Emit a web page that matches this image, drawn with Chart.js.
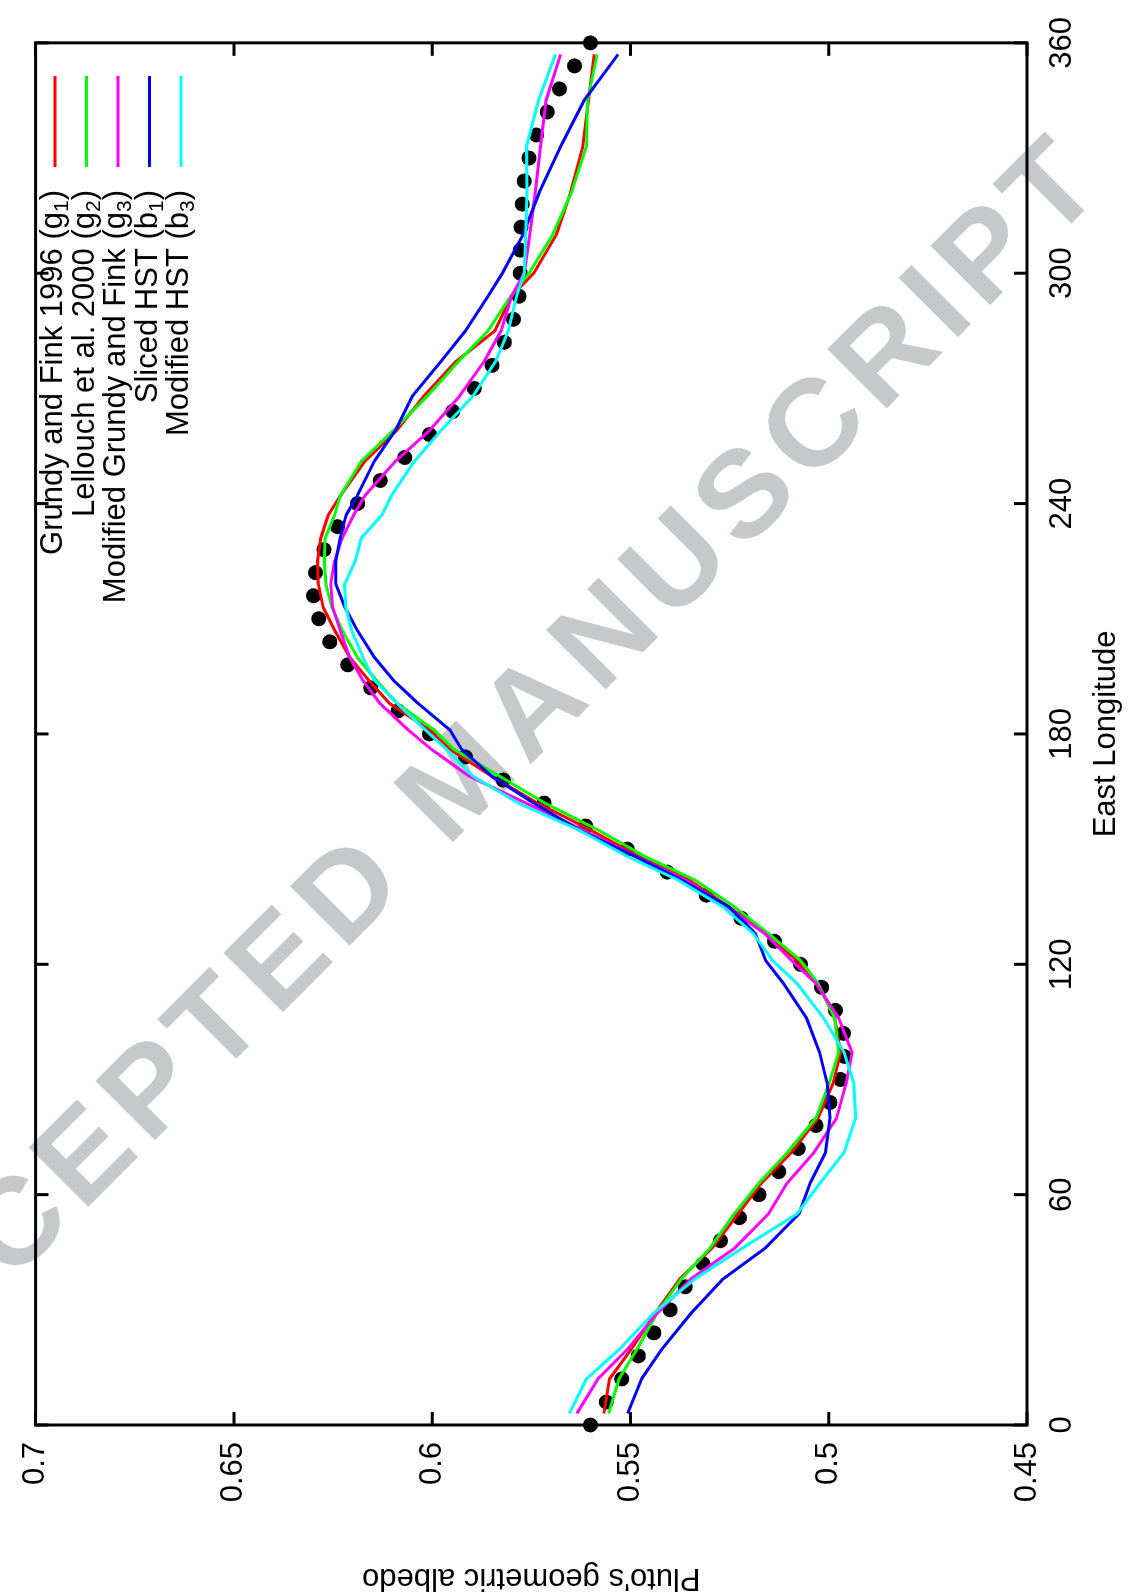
<!DOCTYPE html>
<html>
<head>
<meta charset="utf-8">
<script src="https://cdn.jsdelivr.net/npm/chart.js@4.4.1/dist/chart.umd.min.js"></script>
<style>
    html, body { margin: 0; padding: 0; background: #fff; overflow: hidden; }
    body { width: 1137px; height: 1593px; position: relative; }
    /* the plot is drawn landscape and turned a quarter turn, like the original figure */
    #wrap {
        position: absolute; left: 0; top: 0;
        width: 1593px; height: 1137px;
        transform-origin: 0 0;
        transform: translateY(1593px) rotate(-90deg);
    }
</style>
</head>
<body>
<div id="wrap"><canvas id="albedoChart" width="1593" height="1137"></canvas></div>
<script>
// Observed albedo (black dots), every 6 degrees of east longitude
const dotLon = [0, 6, 12, 18, 24, 30, 36, 42, 48, 54, 60, 66, 72, 78, 84, 90, 96, 102, 108, 114,
    120, 126, 132, 138, 144, 150, 156, 162, 168, 174, 180, 186, 192, 198, 204, 210, 216, 222, 228, 234,
    240, 246, 252, 258, 264, 270, 276, 282, 288, 294, 300, 306, 312, 318, 324, 330, 336, 342, 348, 354, 360];
const dotAlbedo = [0.5601, 0.5561, 0.5522, 0.5480, 0.5441, 0.5400, 0.5362, 0.5317, 0.5273, 0.5225,
    0.5176, 0.5126, 0.5077, 0.5032, 0.4997, 0.4970, 0.4961, 0.4963, 0.4983, 0.5018,
    0.5071, 0.5137, 0.5221, 0.5309, 0.5407, 0.5508, 0.5613, 0.5718, 0.5821, 0.5916,
    0.6007, 0.6086, 0.6155, 0.6213, 0.6258, 0.6286, 0.6299, 0.6294, 0.6273, 0.6239,
    0.6188, 0.6131, 0.6069, 0.6007, 0.5948, 0.5894, 0.5849, 0.5818, 0.5795, 0.5781,
    0.5778, 0.5778, 0.5776, 0.5773, 0.5768, 0.5756, 0.5737, 0.5710, 0.5679, 0.5641, 0.5601];

// Model curves, read at the same longitudes
const lineLon = [3, 12, 20, 29, 38, 46, 55, 63, 71, 80, 89, 97, 106, 115, 121, 128, 135, 142, 148, 155,
    162, 169, 176, 181, 188, 194, 200, 207, 213, 219, 225, 231, 237, 242, 251, 259, 268, 277, 285, 294,
    300, 310, 321, 333, 345, 357];
const grundyFink = [0.5567, 0.5553, 0.5496, 0.5438, 0.5376, 0.5295, 0.5228, 0.5170, 0.5094, 0.5027,
    0.4989, 0.4970, 0.4985, 0.5027, 0.5080, 0.5161, 0.5252, 0.5353, 0.5477, 0.5601,
    0.5735, 0.5850, 0.5955, 0.6006, 0.6108, 0.6160, 0.6208, 0.6246, 0.6275, 0.6287,
    0.6289, 0.6281, 0.6262, 0.6232, 0.6170, 0.6090, 0.6021, 0.5940, 0.5842, 0.5800,
    0.5744, 0.5687, 0.5651, 0.5620, 0.5606, 0.5591];
const lellouch = [0.5555, 0.5529, 0.5482, 0.5434, 0.5372, 0.5300, 0.5238, 0.5176, 0.5104, 0.5032,
    0.4999, 0.4975, 0.4985, 0.5027, 0.5071, 0.5152, 0.5238, 0.5338, 0.5462, 0.5582,
    0.5716, 0.5830, 0.5945, 0.5995, 0.6089, 0.6141, 0.6189, 0.6227, 0.6253, 0.6268,
    0.6272, 0.6270, 0.6246, 0.6232, 0.6179, 0.6098, 0.6012, 0.5934, 0.5859, 0.5802,
    0.5756, 0.5696, 0.5649, 0.5611, 0.5608, 0.5584];
const modGrundy = [0.5635, 0.5582, 0.5505, 0.5434, 0.5348, 0.5238, 0.5152, 0.5105, 0.5037, 0.4980,
    0.4956, 0.4941, 0.4975, 0.5032, 0.5094, 0.5161, 0.5257, 0.5362, 0.5486, 0.5620,
    0.5764, 0.5907, 0.6002, 0.6060, 0.6132, 0.6175, 0.6208, 0.6232, 0.6251, 0.6256,
    0.6246, 0.6227, 0.6198, 0.6170, 0.6093, 0.6007, 0.5931, 0.5869, 0.5826, 0.5800,
    0.5768, 0.5754, 0.5740, 0.5727, 0.5713, 0.5676];
const slicedHst = [0.5507, 0.5472, 0.5419, 0.5348, 0.5267, 0.5161, 0.5075, 0.5047, 0.5008, 0.4997,
    0.5004, 0.5023, 0.5056, 0.5114, 0.5159, 0.5185, 0.5252, 0.5372, 0.5486, 0.5630,
    0.5744, 0.5850, 0.5926, 0.5955, 0.6036, 0.6098, 0.6146, 0.6189, 0.6220, 0.6243,
    0.6243, 0.6232, 0.6217, 0.6189, 0.6146, 0.6093, 0.6050, 0.5978, 0.5916, 0.5859,
    0.5823, 0.5771, 0.5730, 0.5676, 0.5617, 0.5531];
const modHst = [0.5654, 0.5611, 0.5525, 0.5443, 0.5338, 0.5219, 0.5080, 0.5022, 0.4961, 0.4932,
    0.4937, 0.4961, 0.5013, 0.5080, 0.5142, 0.5190, 0.5267, 0.5381, 0.5506, 0.5630,
    0.5783, 0.5897, 0.5964, 0.6017, 0.6089, 0.6146, 0.6175, 0.6203, 0.6218, 0.6221,
    0.6194, 0.6179, 0.6127, 0.6103, 0.6045, 0.5978, 0.5897, 0.5840, 0.5808, 0.5787,
    0.5768, 0.5764, 0.5761, 0.5762, 0.5732, 0.5689];

const seriesNames = ["Grundy and Fink 1996 (g", "Lellouch et al. 2000 (g", "Modified Grundy and Fink (g",
    "Sliced HST (b", "Modified HST (b"];
const seriesSubs = ["1", "2", "3", "1", "3"];
const seriesColors = ["#ff0000", "#00ff00", "#ff00ff", "#0000ff", "#00ffff"];
const seriesValues = [grundyFink, lellouch, modGrundy, slicedHst, modHst];

const FONT = "Liberation Sans, Arial, Helvetica, sans-serif";
const WATERMARK = "ACCEPTED MANUSCRIPT";

function toPoints(xs, ys) {
    return xs.map((x, i) => ({ x: x, y: ys[i] }));
}

// grey diagonal watermark, under the curves
const watermarkPlugin = {
    id: "watermark",
    beforeDatasetsDraw(chart) {
        const ctx = chart.ctx;
        ctx.save();
        ctx.font = "bold 122px " + FONT;
        ctx.fillStyle = "rgb(199,200,202)";
        ctx.textBaseline = "alphabetic";
        ctx.translate(745, 447);
        ctx.rotate(Math.PI / 4);
        ctx.scale(1.03, 1);
        const gap = 10;
        const head = "ACCEPTED ";
        let pos = 0;
        for (const ch of head) pos -= ctx.measureText(ch).width + gap;
        for (const ch of WATERMARK) {
            ctx.fillText(ch, pos, 0);
            pos += ctx.measureText(ch).width + gap;
        }
        ctx.restore();
    },
};

// gnuplot style frame with inward mirrored ticks, titles and key
const framePlugin = {
    id: "frame",
    beforeDatasetsDraw(chart) {
        const ctx = chart.ctx;
        const a = chart.chartArea;
        const xs = chart.scales.x;
        const ys = chart.scales.y;
        ctx.save();
        ctx.strokeStyle = "#000";
        ctx.lineWidth = 3;
        ctx.strokeRect(a.left, a.top, a.right - a.left, a.bottom - a.top);
        ctx.beginPath();
        const tl = 13;
        xs.ticks.forEach((t) => {
            const px = xs.getPixelForValue(t.value);
            ctx.moveTo(px, a.bottom); ctx.lineTo(px, a.bottom - tl);
            ctx.moveTo(px, a.top); ctx.lineTo(px, a.top + tl);
        });
        ys.ticks.forEach((t) => {
            const py = ys.getPixelForValue(t.value);
            ctx.moveTo(a.left, py); ctx.lineTo(a.left + tl, py);
            ctx.moveTo(a.right, py); ctx.lineTo(a.right - tl, py);
        });
        ctx.stroke();

        ctx.fillStyle = "#000";
        ctx.font = "31px " + FONT;
        ctx.textAlign = "center";
        ctx.textBaseline = "alphabetic";
        ctx.fillText("East Longitude", (a.left + a.right) / 2, 1115);
        ctx.save();
        ctx.translate(24, (a.top + a.bottom) / 2);
        ctx.rotate(-Math.PI / 2);
        ctx.fillText("Pluto's geometric albedo", 0, 0);
        ctx.restore();
        ctx.restore();
    },
    afterDatasetsDraw(chart) {
        const ctx = chart.ctx;
        ctx.save();
        const textEnd = 1403;
        seriesNames.forEach((name, i) => {
            const rowY = 55 + 31.5 * i;
            ctx.strokeStyle = seriesColors[i];
            ctx.lineWidth = 3;
            ctx.beginPath();
            ctx.moveTo(1426, rowY);
            ctx.lineTo(1517, rowY);
            ctx.stroke();

            ctx.fillStyle = "#000";
            ctx.textBaseline = "alphabetic";
            ctx.textAlign = "left";
            ctx.font = "31px " + FONT;
            const wClose = ctx.measureText(")").width;
            const wMain = ctx.measureText(name).width;
            ctx.font = "21px " + FONT;
            const wSub = ctx.measureText(seriesSubs[i]).width;
            let x = textEnd - wClose - wSub - wMain;
            ctx.font = "31px " + FONT;
            ctx.fillText(name, x, rowY + 7);
            x += wMain;
            ctx.font = "21px " + FONT;
            ctx.fillText(seriesSubs[i], x, rowY + 13);
            x += wSub;
            ctx.font = "31px " + FONT;
            ctx.fillText(")", x, rowY + 7);
        });
        ctx.restore();
    },
};

const datasets = seriesValues.map((vals, i) => ({
    label: seriesNames[i] + seriesSubs[i] + ")",
    data: toPoints(lineLon, vals),
    borderColor: seriesColors[i],
    backgroundColor: seriesColors[i],
    borderWidth: 3,
    borderJoinStyle: "round",
    pointRadius: 0,
    tension: 0,
    showLine: true,
    order: 5 - i,
}));
datasets.push({
    label: "Observed",
    data: toPoints(dotLon, dotAlbedo),
    backgroundColor: "#000",
    borderColor: "#000",
    pointRadius: 7.5,
    pointBorderWidth: 0,
    showLine: false,
    clip: false,
    order: 6,
});

new Chart(document.getElementById("albedoChart"), {
    type: "scatter",
    data: { datasets: datasets },
    options: {
        responsive: false,
        animation: false,
        devicePixelRatio: 1,
        layout: { padding: { left: 0, top: 26, right: 38.5, bottom: 0 } },
        plugins: {
            legend: { display: false },
            tooltip: { enabled: false },
        },
        scales: {
            x: {
                type: "linear",
                min: 0,
                max: 360,
                ticks: {
                    stepSize: 60,
                    color: "#000",
                    padding: 17,
                    maxRotation: 0,
                    font: { family: FONT, size: 31 },
                },
                grid: { display: false, drawTicks: false },
                border: { display: false },
                afterFit: function (scale) { scale.height = 110; },
            },
            y: {
                type: "linear",
                min: 0.45,
                max: 0.7,
                ticks: {
                    stepSize: 0.05,
                    color: "#000",
                    padding: 17,
                    font: { family: FONT, size: 31 },
                    callback: (v) => String(Number(v.toFixed(2))),
                },
                grid: { display: false, drawTicks: false },
                border: { display: false },
                afterFit: function (scale) { scale.width = 168; },
            },
        },
    },
    plugins: [watermarkPlugin, framePlugin],
});
</script>
</body>
</html>
